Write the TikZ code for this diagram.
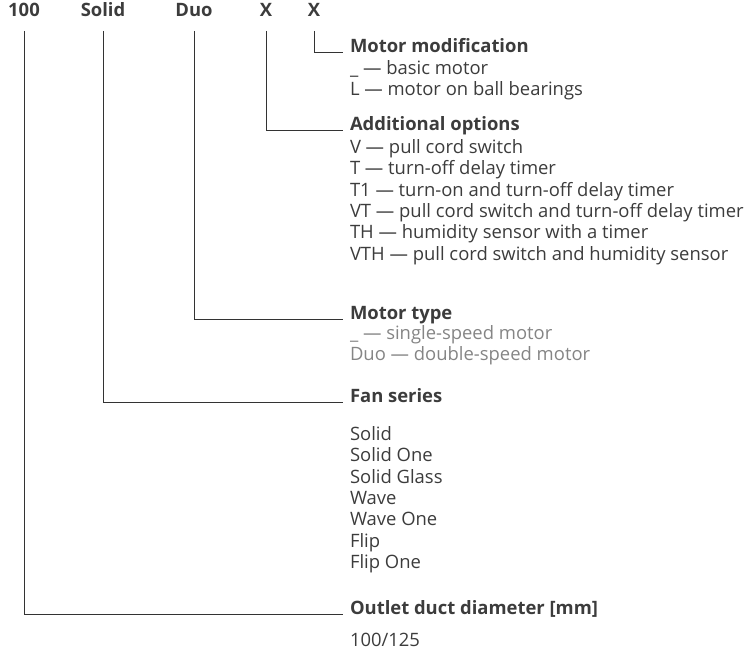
\documentclass[tikz,border=0pt]{standalone}
\usepackage{fontspec}
\setmainfont{Open Sans}
\definecolor{txt}{HTML}{3C3C3C}
\definecolor{lite}{HTML}{858585}
\definecolor{linec}{HTML}{333333}
\begin{document}
\begin{tikzpicture}[x=1bp,y=-1bp,
  every node/.style={inner sep=0pt,outer sep=0pt,text=txt,font=\fontsize{18.5}{22}\selectfont},
  hdr/.style={font=\fontsize{18.5}{22}\selectfont\bfseries,anchor=base},
  ttl/.style={font=\fontsize{18.5}{22}\selectfont\bfseries,anchor=base west},
  item/.style={anchor=base west},
  liteitem/.style={anchor=base west,text=lite},
  conn/.style={draw=linec,line width=1bp}]
\useasboundingbox (0,0) rectangle (748,649);
% header
\node[hdr] (h1) at (24,17) {100};
\node[hdr] (h2) at (103,17) {Solid};
\node[hdr] (h3) at (194,17) {Duo};
\node[hdr] (h4) at (266,17) {X};
\node[hdr] (h5) at (314,17) {X};
% motor modification
\node[ttl] (t5) at (350,53) {Motor modification};
\node[item] (t5a) at (350,75) {\_ — basic motor};
\node[item] (t5b) at (350,96) {L — motor on ball bearings};
% additional options
\node[ttl] (t4) at (350,131) {Additional options};
\node[item] (t4a) at (350,153) {V — pull cord switch};
\node[item] (t4b) at (350,174) {T — turn-off delay timer};
\node[item] (t4c) at (350,196) {T1 — turn-on and turn-off delay timer};
\node[item] (t4d) at (350,217) {VT — pull cord switch and turn-off delay timer};
\node[item] (t4e) at (350,238) {TH — humidity sensor with a timer};
\node[item] (t4f) at (350,260) {VTH — pull cord switch and humidity sensor};
% motor type
\node[ttl] (t3) at (350,319) {Motor type};
\node[liteitem] (t3a) at (350,339) {\_ — single-speed motor};
\node[liteitem] (t3b) at (350,360) {Duo — double-speed motor};
% fan series
\node[ttl] (t2) at (350,402) {Fan series};
\node[item] (t2a) at (350,440) {Solid};
\node[item] (t2b) at (350,461) {Solid One};
\node[item] (t2c) at (350,483) {Solid Glass};
\node[item] (t2d) at (350,504) {Wave};
\node[item] (t2e) at (350,525) {Wave One};
\node[item] (t2f) at (350,547) {Flip};
\node[item] (t2g) at (350,568) {Flip One};
% outlet
\node[ttl] (t1) at (350,614) {Outlet duct diameter [mm]};
\node[item] (t1a) at (350,646) {100/125};
% connectors
\draw[conn] ([yshift=-14bp]h1.base) |- ([xshift=-7bp]t1.base west);
\draw[conn] ([yshift=-14bp]h2.base) |- ([xshift=-7bp]t2.base west);
\draw[conn] ([yshift=-14bp]h3.base) |- ([xshift=-7bp]t3.base west);
\draw[conn] ([yshift=-14bp]h4.base) |- ([xshift=-7bp]t4.base west);
\draw[conn] ([yshift=-14bp]h5.base) |- ([xshift=-7bp]t5.base west);
\end{tikzpicture}
\end{document}
